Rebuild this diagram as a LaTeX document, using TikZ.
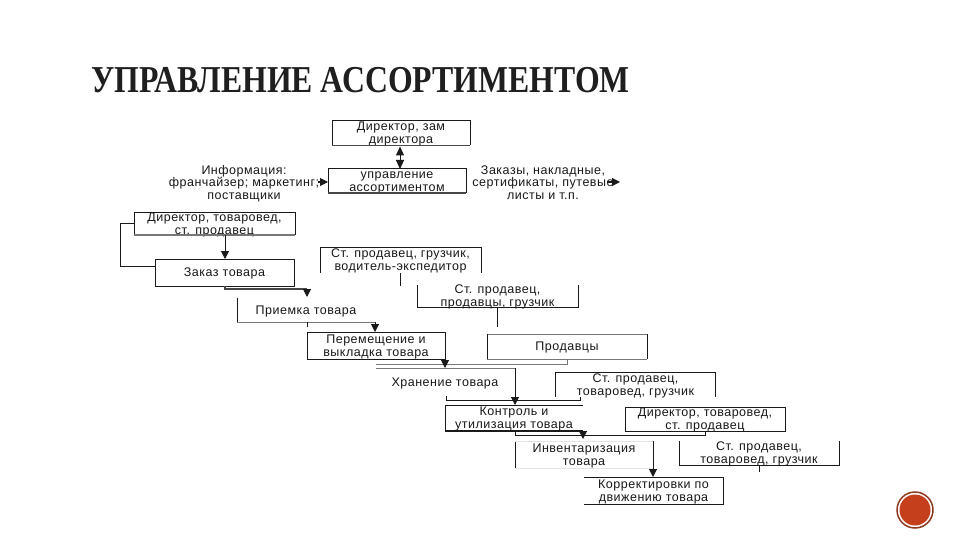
\documentclass[tikz,border=0pt]{standalone}
\usepackage{graphicx}
\usepackage{fontspec}
\setmainfont{Liberation Sans}
\newfontfamily\titlefont{Liberation Serif}
\usetikzlibrary{arrows.meta}
\definecolor{line}{HTML}{1A1A1A}
\definecolor{soft}{HTML}{777777}
\definecolor{pale}{HTML}{E4E4E4}
\definecolor{badge}{HTML}{C63F1C}
\definecolor{badgering}{HTML}{8E3A1E}
\tikzset{
  x=1pt,y=-1pt,
  bx/.style={inner sep=0pt,outer sep=0pt,align=center,font=\fontsize{12.5}{12.7}\selectfont\addfontfeatures{LetterSpace=4},text=black!90,text height=21pt,text depth=0pt},
  one/.style={bx,text height=8pt},
  lab/.style={bx,text height=31pt},
  edge/.style={line,line width=1pt},
  faint/.style={soft,line width=1pt},
  pal/.style={pale,line width=1pt},
  heavy/.style={line,line width=1.6pt},
  arr/.style={line,line width=1pt,-{Triangle[length=8pt,width=8pt]}},
  dbl/.style={line,line width=1pt,{Triangle[length=9pt,width=8pt]}-{Triangle[length=9pt,width=8pt]}},
}
\begin{document}
\begin{tikzpicture}
\useasboundingbox (0,0) rectangle (960,540);
\fill[white] (0,0) rectangle (960,540);

\node[inner sep=0pt,anchor=west,font=\titlefont\bfseries\fontsize{38}{38}\selectfont,text=black!88] (title) at (91,80) {\scalebox{.836}[1]{УПРАВЛЕНИЕ АССОРТИМЕНТОМ}};

% boxes
\node[bx,minimum width=138,minimum height=25] (dir) at (401,133) {Директор, зам\\директора};
\node[bx,minimum width=138,minimum height=24] (upr) at (397,181) {управление\\ассортиментом};
\node[bx,minimum width=161,minimum height=23] (dt) at (214.5,223.5) {Директор, товаровед,\\ст. продавец};
\node[one,minimum width=139,minimum height=27] (zak) at (224.5,272.5) {Заказ товара};
\node[bx,minimum width=161,minimum height=25] (sp) at (400.5,260) {Ст. продавец, грузчик,\\водитель-экспедитор};
\node[bx,minimum width=161,minimum height=22] (spp) at (497.5,296) {Ст. продавец,\\продавцы, грузчик};
\node[one,minimum width=138,minimum height=25] (pri) at (306,310) {Приемка товара};
\node[bx,minimum width=138,minimum height=27] (per) at (376,345.5) {Перемещение и\\выкладка товара};
\node[one,minimum width=160,minimum height=25] (prod) at (567,346.5) {Продавцы};
\node[one,minimum width=138,minimum height=28] (hr) at (445,382) {Хранение товара};
\node[bx,minimum width=160,minimum height=25] (stt) at (635.5,384.5) {Ст. продавец,\\товаровед, грузчик};
\node[bx,minimum width=138,minimum height=26] (kon) at (514,418) {Контроль и\\утилизация товара};
\node[bx,minimum width=160,minimum height=24] (dt2) at (705,419) {Директор, товаровед,\\ст. продавец};
\node[bx,minimum width=138,minimum height=27] (inv) at (584,454.5) {Инвентаризация\\товара};
\node[bx,minimum width=160,minimum height=24] (stg) at (759,453) {Ст. продавец,\\товаровед, грузчик};
\node[bx,minimum width=139,minimum height=27] (kor) at (653.5,490.5) {Корректировки по\\движению товара};

% free labels
\node[lab] (inf) at (244,184) {Информация:\\франчайзер; маркетинг;\\поставщики};
\node[lab,anchor=center] (zk) at (543,184) {Заказы, накладные,\\сертификаты, путевые\\листы и т.п.};

% borders (some are open as in the picture)
\draw[edge] (dir.south west) -- (dir.north west) -- (dir.north east) -- (dir.south east);
\draw[heavy,soft!60!black] (dir.south west) -- (dir.south east);
\draw[edge] (upr.south west) -- (upr.north west) -- (upr.north east) -- (upr.south east);
\draw[heavy,soft!60!black] (upr.south west) -- (upr.south east);
\draw[edge] (dt.south west) -- (dt.north west) -- (dt.north east) -- (dt.south east);
\draw[heavy,soft] (dt.south west) -- (dt.south east);
\draw[edge] (zak.north west) rectangle (zak.south east);
\draw[edge] (sp.south west) -- (sp.north west) -- (sp.north east) -- (sp.south east);
\draw[edge] (spp.north west) -- (spp.south west) -- (spp.south east) -- (spp.north east);
\draw[edge] (pri.north west) -- (pri.south west);
\draw[faint] (pri.south west) -- (pri.south east);
\draw[edge] (per.north west) rectangle (per.south east);
\draw[faint] (prod.north west) -- (prod.north east);
\draw[edge] (prod.south west) -- (prod.north west);
\draw[edge] (prod.north east) -- (prod.south east);
\draw[faint] (prod.south west) -- (prod.south east);
\draw[edge] (stt.south west) -- (stt.north west) -- (stt.north east) -- (stt.south east);
\draw[edge] (kon.south west) -- (kon.north west) -- (kon.north east);
\draw[heavy] (kon.south west) -- (kon.south east);
\draw[edge] (dt2.north west) rectangle (dt2.south east);
\draw[edge] (inv.south west) ++(0,-26) -- (inv.south west);
\draw[pal] (inv.south west) -- (inv.south east);
\draw[pal] (inv.north west) -- (inv.north east);
\draw[edge] (stg.north west) -- (stg.south west) -- (stg.south east) -- (stg.north east);
\draw[edge] (kor.north west) -- (kor.north east) -- (kor.south east) -- (kor.south west);

% connectors
\coordinate (c1) at (120,223);
\coordinate (c2) at (120,266);
\coordinate (c3) at (225,289);
\coordinate (c4) at (307,289);
\coordinate (c5) at (400,273);
\coordinate (c6) at (400,286);
\coordinate (c7) at (375,322);
\coordinate (c8) at (497,307);
\coordinate (c9) at (497,327);
\coordinate (c10) at (567,364);
\coordinate (c11) at (376,364);
\coordinate (c12) at (445,364);
\coordinate (c13) at (376,368);
\coordinate (c14) at (515,368);
\coordinate (c16) at (515,435);
\coordinate (c17) at (705,435);
\coordinate (c18) at (583,435);
\coordinate (c19) at (653,441);
\coordinate (c20) at (759,465);
\coordinate (c21) at (759,472);
\coordinate (c22) at (580,397);
\coordinate (c23) at (307,322);
\coordinate (c24) at (307,327);
\coordinate (c25) at (328,182);
\coordinate (c26) at (620,182);
\coordinate (c27) at (607,182);
\coordinate (c28) at (318,182);
\coordinate (c29) at (446,396);
\coordinate (c30) at (446,400);
\coordinate (c31) at (580,400);

\draw[dbl] (dir.south) ++(-1,1) -- ([xshift=3pt]upr.north);
\draw[arr] (c28) -- (c25);
\draw[arr] (c27) -- (c26);
\draw[arr] (dt.south -| c3) -- (zak.north -| c3);
\draw[edge] (dt.west |- c1) -- (c1) -- (c2) -- (zak.west |- c2);
\draw[heavy,soft!60!black] (c3 |- zak.south) -- (c3) -- (c4);
\draw[arr] (c4) -- ++(0,8);
\draw[edge] (c5) -- (c6);
\draw[edge] (c8) -- (c9);
\draw[arr] (c7) -- (per.north -| c7);
\draw[edge] (c23) -- (c24);
\draw[faint] (c13) -- (c14);
\draw[faint] (c11) -- (c10) -- (prod.south -| c10);
\draw[arr] (per.south -| c12) -- ++(0,9);
\draw[arr] (c14) -- (kon.north -| c14);
\draw[edge] (c29) -- (c30) -- (c31) -- (c22);
\draw[edge] (c16) -- (c17) -- (dt2.south);
\draw[edge] (c16) -- (kon.south -| c16);
\draw[arr] (kon.south -| c18) -- ++(0,8);
\draw[arr] (c19) -- (kor.north -| c19);
\draw[edge] (c20) -- (c21);

% badge
\node[circle,draw=badgering,line width=1.5pt,fill=white,minimum size=36pt,inner sep=0pt] (ring) at (915,510) {};
\node[circle,fill=badge,minimum size=31pt,inner sep=0pt] (disc) at (ring.center) {};
\end{tikzpicture}
\end{document}
